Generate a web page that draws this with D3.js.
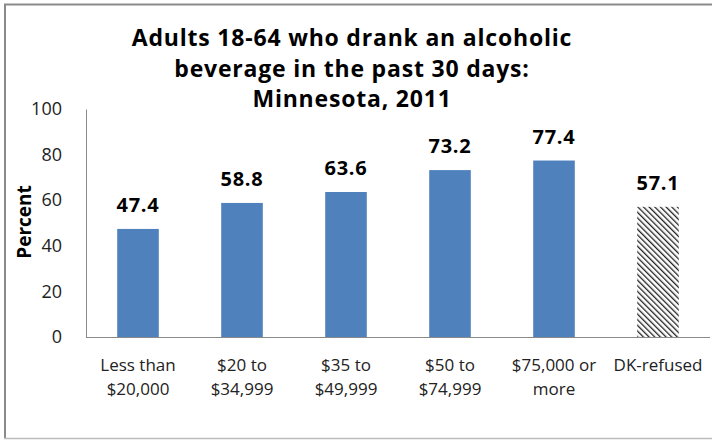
<!DOCTYPE html>
<html>
<head>
<meta charset="utf-8">
<script src="https://cdn.jsdelivr.net/npm/d3@7"></script>
<style>
  body { margin: 0; background: #fff; }
  svg { display: block; font-family: "Open Sans", Lato, sans-serif; }
</style>
</head>
<body>
<div id="chart"></div>
<script>
// data
var categories = [['Less than', '$20,000'], ['$20 to', '$34,999'], ['$35 to', '$49,999'],
                  ['$50 to', '$74,999'], ['$75,000 or', 'more'], ['DK-refused']]
var values = [47.4, 58.8, 63.6, 73.2, 77.4, 57.1]
var hatched = [false, false, false, false, false, true]
var yTicks = [0, 20, 40, 60, 80, 100]
var titleLines = ['Adults 18-64 who drank an alcoholic', 'beverage in the past 30 days:', 'Minnesota, 2011']

var w = 712, h = 440
var margin = { top: 109, right: 2, bottom: 103, left: 86 }

var svg = d3.select('#chart').append('svg')
  .attr('width', w)
  .attr('height', h)

// hatch pattern for the DK-refused bar
var defs = svg.append('defs')
defs.append('pattern')
  .attr('id', 'hatch')
  .attr('patternUnits', 'userSpaceOnUse')
  .attr('width', 4)
  .attr('height', 4)
  .attr('patternTransform', 'rotate(-45)')
  .append('rect')
  .attr('x', 0).attr('y', 0)
  .attr('width', 1.3).attr('height', 4)
  .attr('fill', '#222')

// outer frame
svg.append('line').attr('x1', 4).attr('x2', w).attr('y1', 4.5).attr('y2', 4.5)
  .attr('stroke', '#8a8a8a').attr('stroke-width', 2)
svg.append('line').attr('x1', 5).attr('x2', 5).attr('y1', 4).attr('y2', 439)
  .attr('stroke', '#8a8a8a').attr('stroke-width', 2)
svg.append('line').attr('x1', 4).attr('x2', w).attr('y1', 438.5).attr('y2', 438.5)
  .attr('stroke', '#bdbdbd').attr('stroke-width', 1.5)

var x = d3.scaleBand()
  .domain(d3.range(categories.length))
  .range([margin.left, w - margin.right])
  .paddingInner(0.6)
  .paddingOuter(0.3)

var y = d3.scaleLinear()
  .domain([0, 100])
  .range([h - margin.bottom, margin.top])

var g = svg.append('g')

// title
g.selectAll('.title')
  .data(titleLines)
  .enter().append('text')
  .attr('class', 'title')
  .attr('x', 352)
  .attr('y', function(d, i) { return 46 + i * 30.5 })
  .attr('text-anchor', 'middle')
  .style('font-size', '23px')
  .style('font-weight', 'bold')
  .style('letter-spacing', '0.8px')
  .attr('fill', '#000')
  .text(function(d) { return d })

// y axis
var yAxis = d3.axisLeft(y).tickValues(yTicks).tickSize(0).tickPadding(24)
var ya = g.append('g')
  .attr('transform', 'translate(' + margin.left + ',0)')
  .call(yAxis)
ya.select('.domain').attr('stroke', '#8a8a8a')
ya.selectAll('text')
  .style('font-size', '18px')
  .style('font-family', '"Open Sans", sans-serif')
  .attr('fill', '#222')

g.append('text')
  .attr('transform', 'translate(31,222) rotate(-90)')
  .attr('text-anchor', 'middle')
  .style('font-size', '19px')
  .style('font-weight', 'bold')
  .text('Percent')

// bars
g.selectAll('.bar')
  .data(values)
  .enter().append('rect')
  .attr('class', 'bar')
  .attr('x', function(d, i) { return x(i) })
  .attr('width', x.bandwidth())
  .attr('y', function(d) { return y(d) })
  .attr('height', function(d) { return y(0) - y(d) })
  .attr('fill', function(d, i) { return hatched[i] ? 'url(#hatch)' : '#4f81bd' })

// value labels
g.selectAll('.val')
  .data(values)
  .enter().append('text')
  .attr('class', 'val')
  .attr('x', function(d, i) { return x(i) + x.bandwidth() / 2 })
  .attr('y', function(d) { return y(d) - 17 })
  .attr('text-anchor', 'middle')
  .style('font-size', '20px')
  .style('font-weight', 'bold')
  .style('letter-spacing', '0.8px')
  .text(function(d) { return d.toFixed(1) })

// x axis line
g.append('line')
  .attr('x1', margin.left).attr('x2', w - margin.right)
  .attr('y1', y(0) + 0.5).attr('y2', y(0) + 0.5)
  .attr('stroke', '#8a8a8a')

// x category labels
var cat = g.selectAll('.cat')
  .data(categories)
  .enter().append('text')
  .attr('class', 'cat')
  .attr('text-anchor', 'middle')
  .style('font-size', '17px')
  .attr('fill', '#222')
  .attr('transform', function(d, i) { return 'translate(' + (x(i) + x.bandwidth() / 2) + ',' + (y(0) + 34) + ')' })

cat.selectAll('tspan')
  .data(function(d) { return d })
  .enter().append('tspan')
  .attr('x', 0)
  .attr('dy', function(d, i) { return i === 0 ? 0 : 24 })
  .text(function(d) { return d })
</script>
</body>
</html>
